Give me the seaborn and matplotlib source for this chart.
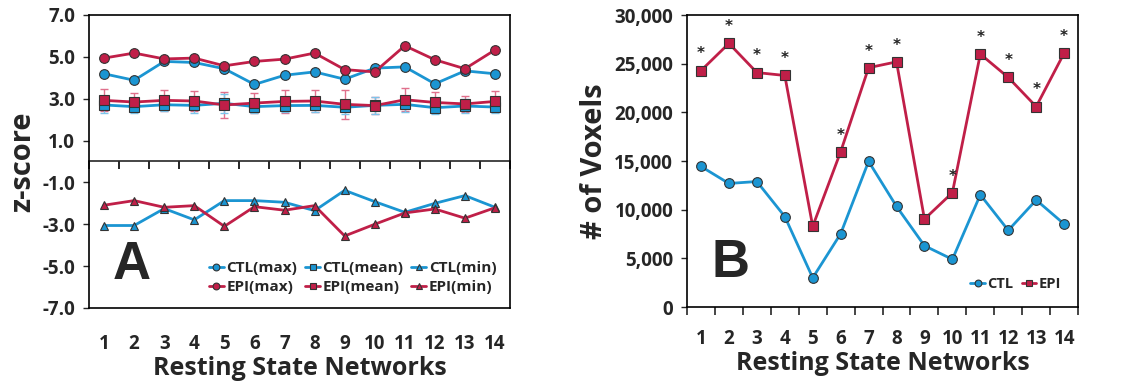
import numpy as np
import pandas as pd
import matplotlib
matplotlib.use("Agg")
import matplotlib.pyplot as plt
import seaborn as sns
from matplotlib.ticker import FuncFormatter

# Resting state networks
networks = list(range(1, 15))

# Panel A - z-scores
ctl_max = [4.19, 3.88, 4.78, 4.73, 4.43, 3.68, 4.12, 4.28, 3.93, 4.46, 4.52, 3.71, 4.33, 4.19]
epi_max = [4.94, 5.18, 4.90, 4.94, 4.57, 4.78, 4.89, 5.18, 4.39, 4.28, 5.53, 4.86, 4.43, 5.33]
ctl_mean = [2.70, 2.62, 2.71, 2.68, 2.78, 2.62, 2.67, 2.68, 2.59, 2.68, 2.73, 2.57, 2.65, 2.60]
epi_mean = [2.92, 2.84, 2.92, 2.89, 2.70, 2.79, 2.87, 2.89, 2.73, 2.67, 2.95, 2.82, 2.75, 2.87]
ctl_mean_err = [0.38, 0.30, 0.32, 0.35, 0.45, 0.30, 0.30, 0.32, 0.30, 0.42, 0.35, 0.30, 0.32, 0.30]
epi_mean_err = [0.52, 0.43, 0.50, 0.50, 0.62, 0.48, 0.54, 0.52, 0.70, 0.40, 0.54, 0.48, 0.39, 0.50]
ctl_min = [-3.06, -3.06, -2.25, -2.79, -1.87, -1.87, -1.95, -2.35, -1.38, -1.92, -2.43, -2.00, -1.63, -2.19]
epi_min = [-2.09, -1.87, -2.19, -2.11, -3.10, -2.16, -2.33, -2.11, -3.56, -3.00, -2.46, -2.27, -2.71, -2.21]

# Panel B - number of voxels
ctl_vox = [14450, 12700, 12900, 9300, 3000, 7530, 14970, 10340, 6300, 4900, 11540, 7880, 11000, 8530]
epi_vox = [24300, 27100, 24100, 23800, 8290, 15960, 24600, 25200, 9040, 11750, 26000, 23600, 20600, 26100]
significant = [True, True, True, True, False, True, True, True, False, True, True, True, True, True]

blue = "#1b95d2"
red = "#c01f48"
red_err = "#e0708c"
blue_err = "#7cc4ea"
edge = "#333333"

sns.set_style("ticks")
plt.rcParams['font.family'] = ['Open Sans', 'DejaVu Sans']
plt.rcParams['font.weight'] = 'bold'

fig = plt.figure(figsize=(11.27, 3.84), dpi=100)
axA = fig.add_axes([0.079, 0.198, 0.3736, 0.763])
axB = fig.add_axes([0.6096, 0.2005, 0.347, 0.760])

# ---- Panel A ----
axA.errorbar(networks, epi_mean, yerr=epi_mean_err, fmt='none', ecolor=red_err,
             elinewidth=1, capsize=3, zorder=1)
axA.errorbar(networks, ctl_mean, yerr=ctl_mean_err, fmt='none', ecolor=blue_err,
             elinewidth=1, capsize=3, zorder=1)

series = [
    (ctl_max, 'CTL(max)', blue, 'o'),
    (epi_max, 'EPI(max)', red, 'o'),
    (ctl_mean, 'CTL(mean)', blue, 's'),
    (epi_mean, 'EPI(mean)', red, 's'),
    (ctl_min, 'CTL(min)', blue, '^'),
    (epi_min, 'EPI(min)', red, '^'),
]
for vals, lab, col, m in series:
    ms = 6 if m == '^' else 7
    sns.lineplot(x=networks, y=vals, ax=axA, color=col, marker=m, label=lab,
                 markersize=ms, markeredgecolor=edge, markeredgewidth=0.8,
                 linewidth=2, zorder=3)

axA.set_xlim(0.5, 14.5)
axA.set_ylim(-7, 7)
axA.set_yticks([-7, -5, -3, -1, 1, 3, 5, 7])
axA.yaxis.set_major_formatter(FuncFormatter(lambda v, p: f"{v:.1f}"))
axA.set_xticks(networks)
axA.tick_params(axis='x', length=0, pad=19, labelsize=13.5)
axA.tick_params(axis='y', direction='out', length=4, width=1, labelsize=13.5, pad=6)
for s in axA.spines.values():
    s.set_color('black')
    s.set_linewidth(1.2)

# zero line carrying the category boundary ticks
secA = axA.secondary_xaxis(0.5)
secA.set_xticks(np.arange(0.5, 15, 1.0))
secA.set_xticklabels([])
secA.tick_params(direction='in', length=6, width=1.2, color='black')
secA.spines['top'].set_linewidth(1.2)

axA.set_xlabel('Resting State Networks', fontsize=18, fontweight='bold', labelpad=1)
axA.set_ylabel('z-score', fontsize=21, fontweight='bold', labelpad=4)
axA.text(0.102, 0.145, 'A', transform=axA.transAxes, fontsize=38, fontweight='bold',
         ha='center', va='center', family=['Liberation Sans', 'DejaVu Sans'])
axA.legend(ncol=3, loc='lower right', bbox_to_anchor=(1.0, 0.0), frameon=False,
           fontsize=11, handlelength=1.0, handletextpad=0.15, columnspacing=0.5,
           labelspacing=0.35, markerscale=0.7)

# ---- Panel B ----
sns.lineplot(x=networks, y=ctl_vox, ax=axB, color=blue, marker='o', label='CTL',
             markersize=7, markeredgecolor=edge, markeredgewidth=0.8, linewidth=2)
sns.lineplot(x=networks, y=epi_vox, ax=axB, color=red, marker='s', label='EPI',
             markersize=7, markeredgecolor=edge, markeredgewidth=0.8, linewidth=2)
for n, v, sig in zip(networks, epi_vox, significant):
    if sig:
        axB.annotate('*', xy=(n, v), xytext=(0, 12), textcoords='offset points',
                     ha='center', va='center', fontsize=11, color='#222222',
                     family=['DejaVu Sans'])

axB.set_xlim(0.5, 14.5)
axB.set_ylim(0, 30000)
axB.set_yticks(range(0, 30001, 5000))
axB.yaxis.set_major_formatter(FuncFormatter(lambda v, p: f"{int(v):,}"))
axB.set_xticks(networks)
axB.set_xticks(np.arange(0.5, 15, 1.0), minor=True)
axB.tick_params(axis='x', which='major', length=0, pad=16, labelsize=13.5)
axB.tick_params(axis='x', which='minor', direction='out', length=6, width=1.2)
axB.tick_params(axis='y', direction='out', length=4, width=1, labelsize=13.5, pad=6)
for s in axB.spines.values():
    s.set_color('black')
    s.set_linewidth(1.2)

axB.set_xlabel('Resting State Networks', fontsize=18, fontweight='bold', labelpad=1)
axB.set_ylabel('# of Voxels', fontsize=21, fontweight='bold', labelpad=4)
axB.text(0.11, 0.15, 'B', transform=axB.transAxes, fontsize=38, fontweight='bold',
         ha='center', va='center', family=['Liberation Sans', 'DejaVu Sans'])
axB.legend(ncol=2, loc='lower right', bbox_to_anchor=(0.99, 0.01), frameon=False,
           fontsize=10.5, handlelength=1.0, handletextpad=0.15, columnspacing=0.6,
           markerscale=0.7)

fig.savefig('out.png', dpi=100)
